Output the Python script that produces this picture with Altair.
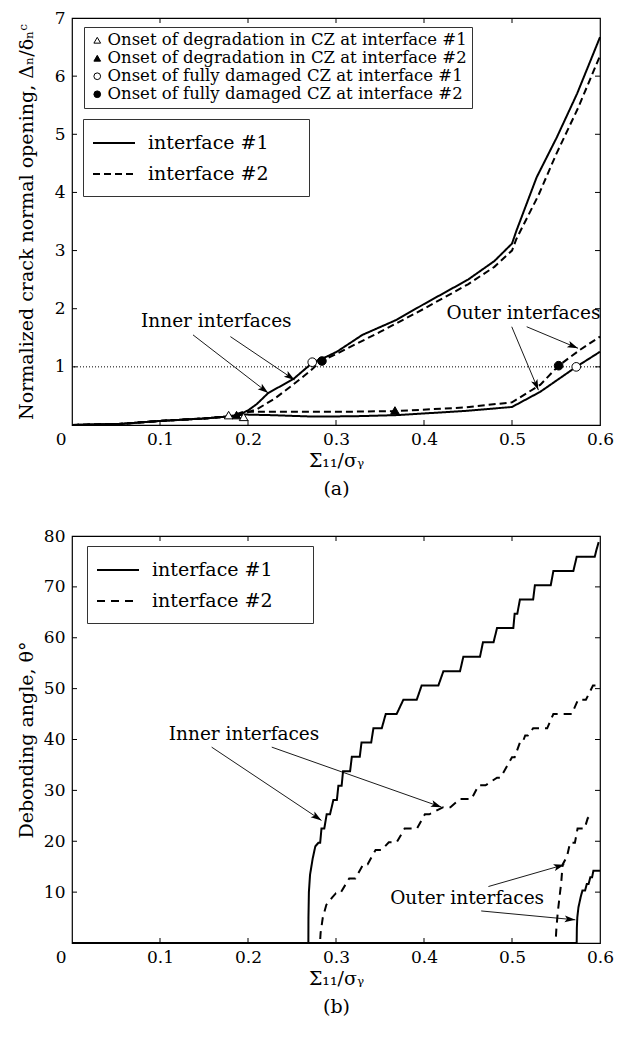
import math
import altair as alt
import pandas as pd

FONT = "DejaVu Serif"
W, H = 528, 407
XMAX = 0.6
YMAX_A, YMAX_B = 7, 80

SERIES = ["interface #1", "interface #2"]
MARKER_LABELS = [
    "Onset of degradation in CZ at interface #1",
    "Onset of degradation in CZ at interface #2",
    "Onset of fully damaged CZ at interface #1",
    "Onset of fully damaged CZ at interface #2",
]
X_TICKS = [0, 0.1, 0.2, 0.3, 0.4, 0.5, 0.6]
Y_TICKS_A = [1, 2, 3, 4, 5, 6, 7]
Y_TICKS_B = [10, 20, 30, 40, 50, 60, 70, 80]

# ---------------- panel (a): normalized crack normal opening ----------------
A_IN1_X = [0, 0.056, 0.10, 0.148, 0.18, 0.19, 0.20, 0.21, 0.223, 0.2515, 0.274, 0.29, 0.301, 0.33, 0.369,
           0.40, 0.45, 0.48, 0.50, 0.505, 0.528, 0.551, 0.574, 0.60]
A_IN1_Y = [0, 0.02, 0.07, 0.11, 0.15, 0.18, 0.25, 0.36, 0.55, 0.79, 1.08, 1.18, 1.26, 1.55, 1.81,
           2.08, 2.50, 2.82, 3.12, 3.34, 4.26, 4.95, 5.70, 6.67]
A_IN2_X = [0, 0.056, 0.10, 0.148, 0.18, 0.19, 0.21, 0.23, 0.25, 0.27, 0.283, 0.30, 0.35, 0.40, 0.45,
           0.48, 0.50, 0.505, 0.53, 0.55, 0.575, 0.60]
A_IN2_Y = [0, 0.02, 0.07, 0.11, 0.15, 0.17, 0.27, 0.45, 0.68, 0.92, 1.10, 1.22, 1.60, 2.00, 2.42,
           2.72, 3.00, 3.20, 3.95, 4.65, 5.45, 6.35]
A_OUT1_X = [0, 0.056, 0.10, 0.148, 0.18, 0.195, 0.225, 0.274, 0.32, 0.369, 0.445, 0.50, 0.532, 0.573, 0.60]
A_OUT1_Y = [0, 0.02, 0.07, 0.11, 0.15, 0.18, 0.17, 0.145, 0.15, 0.17, 0.24, 0.31, 0.57, 1.00, 1.26]
A_OUT2_X = [0, 0.056, 0.10, 0.148, 0.18, 0.195, 0.255, 0.32, 0.369, 0.445, 0.50, 0.532, 0.553, 0.577, 0.60]
A_OUT2_Y = [0, 0.02, 0.07, 0.11, 0.15, 0.23, 0.23, 0.23, 0.24, 0.30, 0.39, 0.69, 1.02, 1.29, 1.52]

MARK_X = [0.178, 0.195, 0.187, 0.367, 0.273, 0.573, 0.284, 0.553]
MARK_Y = [0.17, 0.14, 0.17, 0.25, 1.08, 1.00, 1.10, 1.02]
MARK_KIND = [0, 0, 1, 1, 2, 2, 3, 3]

A_ARROWS = [(0.1375, 1.55, 0.223, 0.55), (0.18, 1.52, 0.253, 0.775),
            (0.4997, 1.69, 0.530, 0.60), (0.5167, 1.69, 0.575, 1.32)]
A_TEXT = ["Inner interfaces", "Outer interfaces"]
A_TEXT_X = [0.164, 0.513]
A_TEXT_Y = [1.79, 1.93]

# ---------------- panel (b): debonding angle ----------------
B_IN1_X = [0, 0.2686, 0.2687, 0.2692, 0.2705, 0.2735, 0.2765, 0.2800, 0.2820, 0.2835, 0.2867, 0.2894, 0.2932,
           0.2970, 0.3010, 0.3027, 0.3064, 0.3080, 0.3160, 0.3180, 0.3270, 0.3290, 0.3400, 0.3425, 0.3520,
           0.3565, 0.3689, 0.3765, 0.3917, 0.3973, 0.4163, 0.4220, 0.4409, 0.4447, 0.4636, 0.4670, 0.4790,
           0.4830, 0.5015, 0.5030, 0.5060, 0.5090, 0.5240, 0.5260, 0.5440, 0.5470, 0.5697, 0.5735, 0.5940,
           0.5960, 0.5985]
B_IN1_Y = [0, 0, 5, 10, 13.4, 16.6, 19.0, 19.7, 19.7, 22.5, 22.5, 25.3, 25.3,
           28.1, 28.1, 30.9, 30.9, 33.75, 33.75, 36.6, 36.6, 39.4, 39.4, 42.2, 42.2,
           45.0, 45.0, 47.8, 47.8, 50.6, 50.6, 53.4, 53.4, 56.25, 56.25, 59.1, 59.1,
           61.9, 61.9, 64.7, 64.7, 67.5, 67.5, 70.3, 70.3, 73.1, 73.1, 75.9, 75.9,
           77.3, 78.8]
B_IN2_X = [0, 0.2818, 0.2825, 0.2850, 0.2890, 0.2960, 0.3000, 0.3050, 0.3150, 0.3220, 0.3310, 0.3360,
           0.3450, 0.3520, 0.3600, 0.3690, 0.3780, 0.3920, 0.4010, 0.4060, 0.4220, 0.4300, 0.4410,
           0.4540, 0.4620, 0.4700, 0.4830, 0.4870, 0.5000, 0.5030, 0.5090, 0.5120, 0.5150, 0.5180,
           0.5240, 0.5400, 0.5470, 0.5680, 0.5750, 0.5840, 0.5920, 0.5990]
B_IN2_Y = [0, 0, 2, 5, 7.5, 9.0, 9.8, 9.8, 12.7, 12.7, 15.5, 15.5,
           18.3, 18.3, 19.8, 19.8, 22.5, 22.5, 25.3, 25.3, 26.7, 26.7, 28.3,
           28.3, 31.0, 31.0, 32.5, 32.5, 36.5, 36.5, 39.4, 39.4, 40.8, 40.8,
           42.2, 42.2, 45.0, 45.0, 47.8, 47.8, 50.6, 50.6]
B_OUT1_X = [0, 0.5735, 0.5737, 0.5742, 0.5755, 0.5780, 0.5800, 0.5830, 0.5850, 0.5870, 0.5890, 0.5910,
            0.5925, 0.6000]
B_OUT1_Y = [0, 0, 3.0, 5.0, 7.0, 9.0, 10.3, 10.3, 11.6, 11.6, 12.9, 12.9, 14.2, 14.2]
B_OUT2_X = [0, 0.5495, 0.5505, 0.5520, 0.5540, 0.5560, 0.5575, 0.5625, 0.5660, 0.5715, 0.5745, 0.5825,
            0.5860, 0.5900]
B_OUT2_Y = [0, 0, 3.0, 6.0, 9.0, 12.0, 15.4, 17.0, 19.7, 19.7, 22.5, 22.5, 24.5, 25.3]

B_ARROWS = [(0.1587, 38.5, 0.2835, 24.1), (0.227, 38.5, 0.420, 26.7),
            (0.4732, 11.1, 0.5595, 15.4), (0.465, 6.3, 0.572, 4.55)]
B_TEXT = ["Inner interfaces", "Outer interfaces"]
B_TEXT_X = [0.1955, 0.449]
B_TEXT_Y = [41.0, 8.8]

ARROW_PATH = "M0,0L-1,-0.32L-0.78,0L-1,0.32Z"
BLANK_PAD = "\u2800" * 2  # invisible (blank) glyphs that widen the legend box to the reference width


def curves_df(curves):
    rows = []
    for name, series, xs, ys in curves:
        for i, (x, y) in enumerate(zip(xs, ys)):
            rows.append(dict(x=x, y=y, series=series, curve=name, i=i))
    return pd.DataFrame(rows)


def arrow_frames(arrows, ymax):
    shafts, heads = [], []
    for x1, y1, x2, y2 in arrows:
        dx = (x2 - x1) / XMAX * W
        dy = -(y2 - y1) / ymax * H
        ang = math.degrees(math.atan2(dy, dx)) % 360
        shafts.append(dict(x=x1, y=y1, x2=x2, y2=y2))
        heads.append(dict(x=x2, y=y2, angle=ang))
    return pd.DataFrame(shafts), pd.DataFrame(heads)


def panel(lines, ymax, yticks, ytitle, xtitle, dash_legend, dash_pattern, arrows, texts, points=None,
          marker_legend=None):
    xs = alt.Scale(domain=[0, XMAX], nice=False, zero=False)
    ys = alt.Scale(domain=[0, ymax], nice=False, zero=False)
    x_axis = alt.Axis(values=X_TICKS, title=xtitle, labelFlush=False, format="~r",
                      labelAlign={"condition": {"test": "datum.value == 0", "value": "right"}, "value": "center"},
                      labelOffset={"condition": {"test": "datum.value == 0", "value": -6}, "value": 0},
                      labelPadding=6, titlePadding=4, titleLineHeight=28)
    y_axis = alt.Axis(values=yticks, title=ytitle, labelPadding=7, titleX=-36, format="d")
    layers = []
    layers.append(
        alt.Chart(lines).mark_line(strokeWidth=2, color="black").encode(
            x=alt.X("x:Q", scale=xs, axis=x_axis),
            y=alt.Y("y:Q", scale=ys, axis=y_axis),
            strokeDash=alt.StrokeDash("series:N", scale=alt.Scale(domain=SERIES, range=[[1, 0], dash_pattern]),
                                      legend=dash_legend),
            detail="curve:N",
            order="i:Q",
        )
    )
    tx = pd.DataFrame({"x": X_TICKS[1:-1]})
    ty = pd.DataFrame({"y": yticks[:-1]})
    layers.append(alt.Chart(tx).mark_rule(color="black", strokeWidth=1).encode(
        x=alt.X("x:Q", scale=xs), y=alt.value(0), y2=alt.value(5)))
    layers.append(alt.Chart(tx).mark_rule(color="black", strokeWidth=1).encode(
        x=alt.X("x:Q", scale=xs), y=alt.value(H), y2=alt.value(H - 5)))
    layers.append(alt.Chart(ty).mark_rule(color="black", strokeWidth=1).encode(
        y=alt.Y("y:Q", scale=ys), x=alt.value(0), x2=alt.value(5)))
    layers.append(alt.Chart(ty).mark_rule(color="black", strokeWidth=1).encode(
        y=alt.Y("y:Q", scale=ys), x=alt.value(W), x2=alt.value(W - 5)))
    shafts, heads = arrows
    layers.append(alt.Chart(shafts).mark_rule(color="black", strokeWidth=0.9).encode(
        x=alt.X("x:Q", scale=xs), y=alt.Y("y:Q", scale=ys), x2="x2:Q", y2="y2:Q"))
    layers.append(alt.Chart(heads).mark_point(shape=ARROW_PATH, size=460, filled=True, color="black",
                                              strokeWidth=0, opacity=1).encode(
        x=alt.X("x:Q", scale=xs), y=alt.Y("y:Q", scale=ys), angle=alt.Angle("angle:Q", scale=None)))
    layers.append(alt.Chart(texts).mark_text(font=FONT, fontSize=18.5, color="black").encode(
        x=alt.X("x:Q", scale=xs), y=alt.Y("y:Q", scale=ys), text="text:N"))
    if points is not None:
        layers.insert(1, alt.Chart(pd.DataFrame({"y": [1]})).mark_rule(
            color="black", strokeWidth=1, strokeDash=[1, 2]).encode(y=alt.Y("y:Q", scale=ys)))
        layers.append(alt.Chart(points).mark_point(filled=True, size=75, strokeWidth=1, opacity=1).encode(
            x=alt.X("x:Q", scale=xs), y=alt.Y("y:Q", scale=ys),
            shape=alt.Shape("marker:N", scale=alt.Scale(domain=MARKER_LABELS,
                                                        range=["triangle-up", "triangle-up", "circle", "circle"]),
                            legend=marker_legend),
            fill=alt.Fill("marker:N", scale=alt.Scale(domain=MARKER_LABELS,
                                                      range=["white", "black", "white", "black"]),
                          legend=marker_legend),
            stroke=alt.Stroke("marker:N", scale=alt.Scale(domain=MARKER_LABELS,
                                                          range=["black", "black", "black", "black"]),
                              legend=marker_legend),
        ))
    return alt.layer(*layers).properties(width=W, height=H)


def dash_legend(lx, ly):
    return alt.Legend(title=None, orient="none", legendX=lx, legendY=ly, direction="vertical",
                      fillColor="white", strokeColor="#333", padding=12, labelFont=FONT, labelFontSize=19,
                      labelColor="black", labelLimit=400, symbolType="M-2,0L2,0", symbolSize=441,
                      symbolStrokeWidth=2.2, symbolStrokeColor="black", symbolOffset=7, labelOffset=22,
                      rowPadding=9, labelExpr="datum.label + '" + BLANK_PAD + "'")


marker_legend = alt.Legend(title=None, orient="none", legendX=12, legendY=9, direction="vertical",
                           fillColor="white", strokeColor="#333", padding=5, labelFont=FONT, labelFontSize=16.5,
                           labelColor="black", labelLimit=600, symbolSize=45, symbolStrokeColor="black",
                           symbolStrokeWidth=1, labelOffset=2, rowPadding=1)

lines_a = curves_df([("in1", SERIES[0], A_IN1_X, A_IN1_Y), ("in2", SERIES[1], A_IN2_X, A_IN2_Y),
                     ("out1", SERIES[0], A_OUT1_X, A_OUT1_Y), ("out2", SERIES[1], A_OUT2_X, A_OUT2_Y)])
lines_b = curves_df([("in1", SERIES[0], B_IN1_X, B_IN1_Y), ("in2", SERIES[1], B_IN2_X, B_IN2_Y),
                     ("out1", SERIES[0], B_OUT1_X, B_OUT1_Y), ("out2", SERIES[1], B_OUT2_X, B_OUT2_Y)])
points_a = pd.DataFrame({"x": MARK_X, "y": MARK_Y, "marker": [MARKER_LABELS[k] for k in MARK_KIND]})
texts_a = pd.DataFrame({"x": A_TEXT_X, "y": A_TEXT_Y, "text": A_TEXT})
texts_b = pd.DataFrame({"x": B_TEXT_X, "y": B_TEXT_Y, "text": B_TEXT})

pa = panel(lines_a, YMAX_A, Y_TICKS_A, "Normalized crack normal opening, Δₙ/δₙᶜ", ["Σ₁₁/σᵧ", "(a)"],
           dash_legend(11, 101), [7, 4], arrow_frames(A_ARROWS, YMAX_A), texts_a, points_a, marker_legend)
pb = panel(lines_b, YMAX_B, Y_TICKS_B, "Debonding angle, θ°", ["Σ₁₁/σᵧ", "(b)"],
           dash_legend(15, 10), [8, 6], arrow_frames(B_ARROWS, YMAX_B), texts_b)

chart = (
    alt.vconcat(pa, pb, spacing=27)
    .resolve_scale(strokeDash="independent", x="independent", y="independent")
    .resolve_legend(strokeDash="independent")
    .properties(padding={"left": 8, "top": 0, "right": 5, "bottom": 0})
    .configure(font=FONT, background="white")
    .configure_view(stroke="black", strokeWidth=1.2)
    .configure_axis(labelFont=FONT, labelFontSize=17, labelColor="black", titleFont=FONT, titleFontSize=19,
                    titleFontWeight="normal", titleColor="black", domain=False, ticks=False, grid=False)
)

chart.save("out.html", embed_options={"renderer": "svg", "actions": False})
